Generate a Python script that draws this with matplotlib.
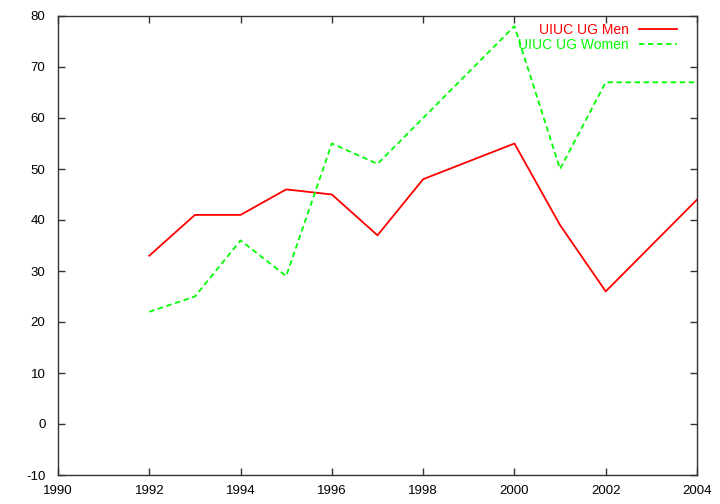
import matplotlib
matplotlib.use("Agg")
import matplotlib.pyplot as plt

years = [1992, 1993, 1994, 1995, 1996, 1997, 1998, 2000, 2001, 2002, 2004]
men = [33, 41, 41, 46, 45, 37, 48, 55, 39, 26, 44]
women = [22, 25, 36, 29, 55, 51, 60, 78, 50, 67, 67]
labels = ["UIUC UG Men", "UIUC UG Women"]
xticks = list(range(1990, 2005, 2))
yticks = list(range(-10, 90, 10))

plt.rcParams['font.family'] = ['Liberation Sans', 'DejaVu Sans']
plt.rcParams['axes.unicode_minus'] = False
fig = plt.figure(figsize=(7.2, 5.04), dpi=100)
ax = fig.add_axes([58/720, 1-475/504, (697-58)/720, (475-16)/504])
ax.plot(years, men, color='#ff0000', lw=1.3, label=labels[0])
ax.plot(years, women, color='#00ff00', lw=1.3, ls=(0, (3, 2)), label=labels[1])
ax.set_xlim(1990, 2004)
ax.set_ylim(-10, 80)
ax.set_xticks(xticks)
ax.set_yticks(yticks)
ax.tick_params(direction='in', top=True, right=True, length=5, width=1, labelsize=9.5, color='#333333')
ax.tick_params(axis='x', pad=7)
ax.tick_params(axis='y', pad=9)
for s in ax.spines.values():
    s.set_color('#333333')
    s.set_linewidth(1)
leg = ax.legend(loc='upper right', frameon=False, markerfirst=False, fontsize=10,
                handlelength=2.8, bbox_to_anchor=(1 - 14/639, 1 - 1/459), borderaxespad=0.0,
                labelspacing=0.12, handletextpad=0.7)
for t, c in zip(leg.get_texts(), ['#ff0000', '#00ff00']):
    t.set_color(c)
fig.savefig("out.png", dpi=100)
